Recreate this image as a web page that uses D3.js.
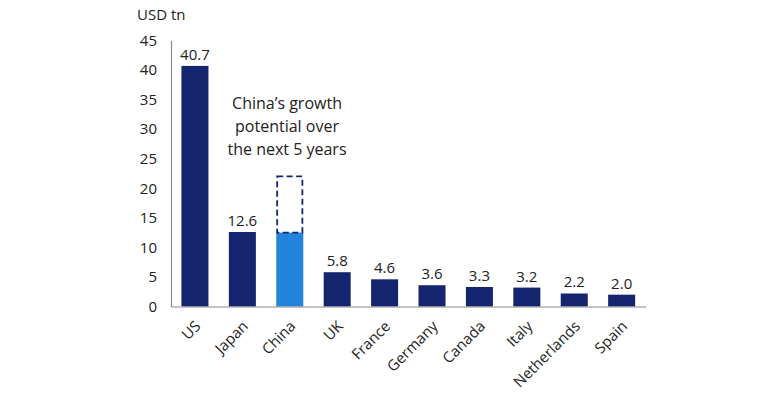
<!DOCTYPE html>
<html><head><meta charset="utf-8">
<script src="https://cdn.jsdelivr.net/npm/d3@7"></script>
<style>body{margin:0;background:#fff;} text{font-family:"Open Sans",sans-serif;fill:#222;}</style>
</head><body>
<svg id="c" width="780" height="398"></svg>
<script>
const categories = ["US","Japan","China","UK","France","Germany","Canada","Italy","Netherlands","Spain"];
const values = [40.7,12.6,12.5,5.8,4.6,3.6,3.3,3.2,2.2,2.0];
const valueLabels = ["40.7","12.6","","5.8","4.6","3.6","3.3","3.2","2.2","2.0"];
const chinaPotential = 22.0;
const yTicks = [0,5,10,15,20,25,30,35,40,45];
const annotation = ["China\u2019s growth","potential over","the next 5 years"];

const svg = d3.select("#c");
const x = d3.scaleBand().domain(categories).range([171,645.6]).paddingInner(0.43).paddingOuter(0.22);
const y = d3.scaleLinear().domain([0,45]).range([306.5,40.5]);

// bars
svg.selectAll("rect.bar").data(categories).enter().append("rect")
  .attr("x", d=>x(d)).attr("width", x.bandwidth())
  .attr("y", (d,i)=>y(values[i])).attr("height", (d,i)=>y(0)-y(values[i]))
  .attr("fill", d=> d==="China" ? "#2384dc" : "#15246f");

// dashed potential box
svg.append("rect")
  .attr("x", x("China")+0.9).attr("width", x.bandwidth()-1.8)
  .attr("y", y(chinaPotential)).attr("height", y(values[2])-y(chinaPotential))
  .attr("fill","none").attr("stroke","#15246f").attr("stroke-width",1.8)
  .attr("stroke-dasharray","6,3.5");

// value labels
svg.selectAll("text.val").data(categories).enter().append("text")
  .attr("x", d=>x(d)+x.bandwidth()/2).attr("y",(d,i)=>y(values[i])-6)
  .attr("text-anchor","middle").style("font-size","15px")
  .text((d,i)=>valueLabels[i]);

// axes
const yAxis = d3.axisLeft(y).tickValues(yTicks).tickSize(0).tickPadding(14);
const gy = svg.append("g").attr("transform","translate(171,0)").call(yAxis);
gy.select(".domain").attr("stroke","#8a8a8a").attr("stroke-width",1.2);
gy.selectAll("text").style("font-size","15px").style("font-family","'Open Sans',sans-serif").attr("fill","#333");

const xAxis = d3.axisBottom(x).tickSize(0).tickSizeOuter(0);
const gx = svg.append("g").attr("transform","translate(0,306.5)").call(xAxis);
gx.select(".domain").attr("stroke","#8a8a8a").attr("stroke-width",1.2);
gx.selectAll("text").style("font-size","15px").style("font-family","'Open Sans',sans-serif").attr("fill","#333")
  .attr("text-anchor","end").attr("dy","0.35em")
  .attr("transform","translate(3,17) rotate(-45)").attr("y",0).attr("x",0);

// unit label
svg.append("text").attr("x",137).attr("y",20).style("font-size","15px").text("USD tn");

// annotation
svg.append("text").attr("text-anchor","middle").style("font-size","16px")
  .selectAll("tspan").data(annotation).enter().append("tspan")
  .attr("x",287).attr("y",(d,i)=>109+i*23).text(d=>d);
</script>
</body></html>
